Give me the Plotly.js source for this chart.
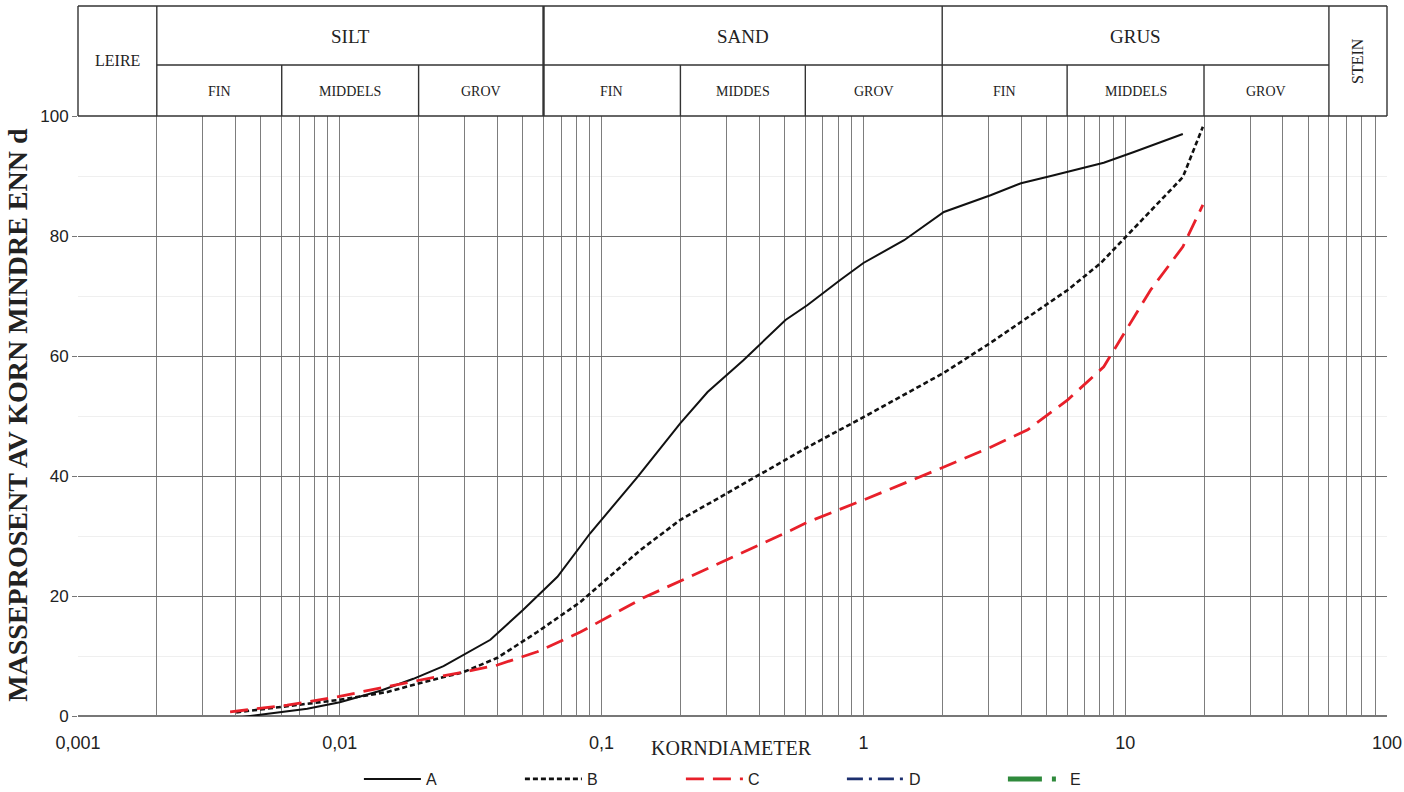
<!DOCTYPE html>
<html>
<head>
<meta charset="utf-8">
<script src="https://cdn.plot.ly/plotly-3.0.1.min.js"></script>
<style>
  html, body { margin: 0; padding: 0; background: #ffffff; }
  #chart { width: 1404px; height: 792px; }
</style>
</head>
<body>
<div id="chart"></div>
<script>
// ---- Data ----
const seriesNames = ['A', 'B', 'C', 'D', 'E'];

const aDiameter = [0.00402, 0.00751, 0.0100, 0.0143, 0.0191, 0.0249, 0.0376, 0.0502, 0.0678, 0.0906, 0.137, 0.200, 0.254, 0.348, 0.504, 0.612, 0.818, 1.00, 1.43, 2.03, 3.06, 4.00, 5.20, 8.28, 10.8, 16.6];
const aPercent  = [-0.3, 1.2, 2.3, 4.2, 6.2, 8.3, 12.7, 17.7, 23.2, 30.5, 39.8, 48.8, 54.0, 59.3, 66.0, 68.5, 72.7, 75.5, 79.3, 84.0, 86.8, 88.8, 90.0, 92.2, 94.0, 97.0];

const bDiameter = [0.00402, 0.00592, 0.0100, 0.0152, 0.0203, 0.0296, 0.0400, 0.0568, 0.083, 0.111, 0.141, 0.200, 0.303, 0.405, 0.612, 1.00, 2.03, 3.06, 4.09, 6.03, 8.07, 10.2, 16.6, 19.8];
const bPercent  = [0.6, 1.5, 2.7, 4.0, 5.5, 7.3, 9.7, 14.0, 19.0, 23.8, 27.7, 32.7, 37.2, 40.2, 44.8, 49.8, 57.2, 62.2, 66.0, 71.0, 75.5, 80.2, 89.8, 98.2];

const cDiameter = [0.00381, 0.0063, 0.00977, 0.0143, 0.0203, 0.0296, 0.0400, 0.0568, 0.083, 0.1445, 0.232, 0.348, 0.527, 0.612, 1.00, 2.03, 3.06, 4.24, 6.03, 8.28, 10.2, 12.5, 16.6, 19.8];
const cPercent  = [0.7, 1.8, 3.2, 4.7, 6.0, 7.3, 8.5, 10.7, 14.0, 19.7, 23.8, 27.2, 30.9, 32.3, 36.0, 41.5, 44.8, 47.7, 52.7, 58.2, 64.8, 71.0, 78.2, 85.2];

// D and E appear only in the legend (no data drawn)
const dDiameter = [null];
const dPercent  = [null];
const eDiameter = [null];
const ePercent  = [null];

// Tick labels
const xTickValues = [0.001, 0.01, 0.1, 1, 10, 100];
const xTickLabels = ['0,001', '0,01', '0,1', '1', '10', '100'];
const yTickValues = [0, 20, 40, 60, 80, 100];

// Header (soil classes) - boundaries in grain diameter (mm)
const mainClasses    = ['LEIRE', 'SILT', 'SAND', 'GRUS', 'STEIN'];
const mainBounds     = [0.001, 0.002, 0.06, 2, 60, 100];
const subClasses     = ['FIN', 'MIDDELS', 'GROV', 'FIN', 'MIDDES', 'GROV', 'FIN', 'MIDDELS', 'GROV'];
const subBounds      = [0.002, 0.006, 0.02, 0.06, 0.2, 0.6, 2, 6, 20, 60];

const xTitle = 'KORNDIAMETER';
const yTitle = 'MASSEPROSENT AV KORN MINDRE ENN d';

// ---- Helpers ----
const X_LOG_MIN = -3, X_LOG_MAX = 2;
function paperX(v) { return (Math.log10(v) - X_LOG_MIN) / (X_LOG_MAX - X_LOG_MIN); }

// gridline positions at every digit of each decade
const gridVals = [], gridText = [];
for (let e = -3; e <= 2; e++) {
  for (let d = 1; d <= 9; d++) {
    const v = d * Math.pow(10, e);
    if (v > 100.0001) break;
    gridVals.push(v);
    const idx = xTickValues.findIndex(t => Math.abs(t - v) / v < 1e-6);
    gridText.push(idx >= 0 ? xTickLabels[idx] : '');
  }
}

const serif = 'Liberation Serif, Times New Roman, serif';
const sans = 'Liberation Sans, Arial, sans-serif';

const traces = [
  { x: aDiameter, y: aPercent, name: seriesNames[0], type: 'scatter', mode: 'lines',
    line: { color: '#111111', width: 2 } },
  { x: bDiameter, y: bPercent, name: seriesNames[1], type: 'scatter', mode: 'lines',
    line: { color: '#111111', width: 2.6, dash: '5px,3px' } },
  { x: cDiameter, y: cPercent, name: seriesNames[2], type: 'scatter', mode: 'lines',
    line: { color: '#e8202a', width: 2.8, dash: '18px,9px' } },
  { x: dDiameter, y: dPercent, name: seriesNames[3], type: 'scatter', mode: 'lines',
    line: { color: '#1c2f6e', width: 2.6, dash: '16px,6px,3px,6px' } },
  { x: eDiameter, y: ePercent, name: seriesNames[4], type: 'scatter', mode: 'lines',
    line: { color: '#2f8a3c', width: 5, dash: '34px,10px,4px,30px' } }
];

// ---- Header shapes & annotations ----
const yTop = 1.1833, yMid = 1.085, yBot = 1.0;
const lineStyle = { color: '#333333', width: 1.4 };
const shapes = [];
shapes.push({ type: 'line', xref: 'paper', yref: 'paper', x0: 0, x1: 1, y0: yTop, y1: yTop, line: lineStyle });
shapes.push({ type: 'line', xref: 'paper', yref: 'paper', x0: 0, x1: 1, y0: yBot, y1: yBot, line: lineStyle });
shapes.push({ type: 'line', xref: 'paper', yref: 'paper', x0: paperX(mainBounds[1]), x1: paperX(mainBounds[4]), y0: yMid, y1: yMid, line: lineStyle });
mainBounds.forEach(b => {
  const w = (b === 0.06) ? 2.4 : 1.4;
  shapes.push({ type: 'line', xref: 'paper', yref: 'paper', x0: paperX(b), x1: paperX(b), y0: yBot, y1: yTop, line: { color: '#333333', width: w } });
});
subBounds.forEach(b => {
  if (mainBounds.indexOf(b) >= 0) return;
  shapes.push({ type: 'line', xref: 'paper', yref: 'paper', x0: paperX(b), x1: paperX(b), y0: yBot, y1: yMid, line: lineStyle });
});

const annotations = [];
mainClasses.forEach((name, i) => {
  const c = (paperX(mainBounds[i]) + paperX(mainBounds[i + 1])) / 2;
  const full = (name === 'LEIRE' || name === 'STEIN');
  annotations.push({
    text: name, xref: 'paper', yref: 'paper', x: c,
    y: full ? 1.0917 : 1.1317, xanchor: 'center', yanchor: 'middle', showarrow: false,
    textangle: name === 'STEIN' ? -90 : 0,
    font: { family: serif, size: full ? 16 : 19, color: '#222222' }
  });
});
subClasses.forEach((name, i) => {
  const c = (paperX(subBounds[i]) + paperX(subBounds[i + 1])) / 2;
  annotations.push({
    text: name, xref: 'paper', yref: 'paper', x: c, y: 1.04,
    xanchor: 'center', yanchor: 'middle', showarrow: false,
    font: { family: serif, size: 14, color: '#222222' }
  });
});
annotations.push({
  text: xTitle, xref: 'paper', yref: 'paper', x: 0.4989, y: -0.0533,
  xanchor: 'center', yanchor: 'middle', showarrow: false,
  font: { family: serif, size: 20, color: '#222222' }
});
annotations.push({
  text: '<b>' + yTitle + '</b>', xref: 'paper', yref: 'paper', x: -0.0458, y: 0.502,
  xanchor: 'center', yanchor: 'middle', showarrow: false, textangle: -90,
  font: { family: serif, size: 28, color: '#222222' }
});

const layout = {
  width: 1404, height: 792,
  margin: { l: 78, r: 17, t: 116, b: 76, pad: 0, autoexpand: false },
  paper_bgcolor: '#ffffff', plot_bgcolor: '#ffffff',
  hovermode: false,
  showlegend: true,
  legend: {
    orientation: 'h', xref: 'paper', yref: 'paper',
    x: 0.2146, xanchor: 'left', y: -0.105, yanchor: 'middle',
    entrywidth: 89, entrywidthmode: 'pixels',
    itemwidth: 57,
    font: { family: sans, size: 16, color: '#222222' },
    bgcolor: 'rgba(0,0,0,0)', borderwidth: 0
  },
  xaxis: {
    type: 'log', range: [X_LOG_MIN, X_LOG_MAX],
    tickmode: 'array', tickvals: gridVals, ticktext: gridText,
    ticks: '', ticklabelstandoff: 14,
    tickfont: { family: sans, size: 18, color: '#222222' },
    showgrid: true, gridcolor: '#7d7d7d', gridwidth: 1,
    zeroline: false, showline: false, fixedrange: true
  },
  yaxis: {
    range: [0, 100], tickmode: 'array', tickvals: yTickValues,
    ticks: 'outside', ticklen: 5, tickcolor: '#777777',
    tickfont: { family: sans, size: 17, color: '#222222' },
    showgrid: true, gridcolor: '#6e6e6e', gridwidth: 1,
    minor: { dtick: 10, showgrid: true, gridcolor: '#efefef', gridwidth: 1 },
    zeroline: true, zerolinecolor: '#777777', zerolinewidth: 1.5,
    showline: false, fixedrange: true
  },
  shapes: shapes,
  annotations: annotations
};

Plotly.newPlot('chart', traces, layout, { staticPlot: true, displayModeBar: false });
</script>
</body>
</html>
